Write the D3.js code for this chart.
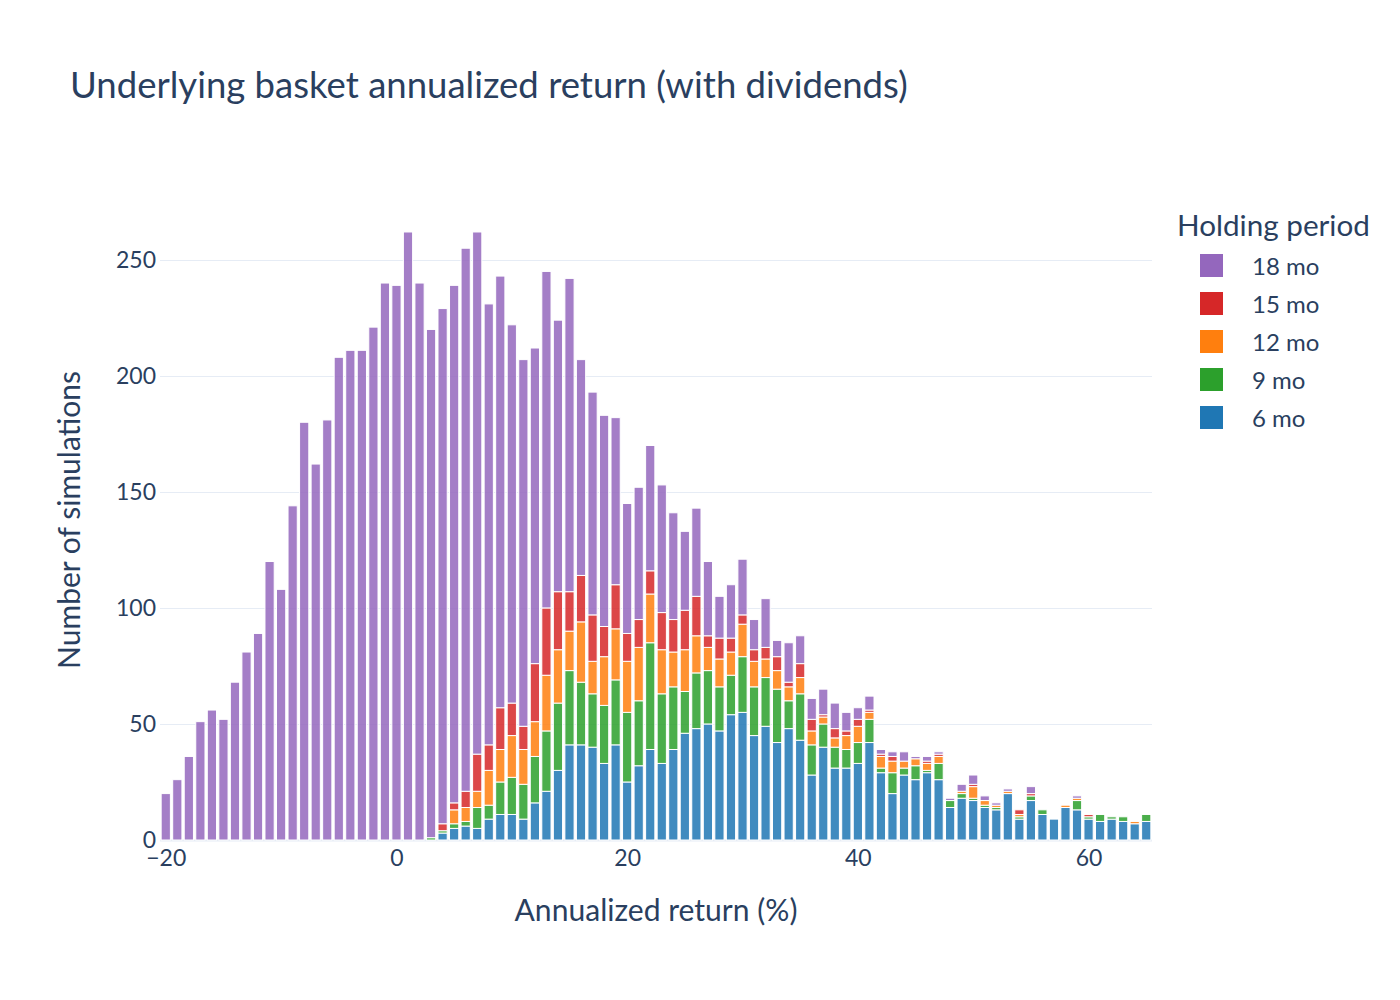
<!DOCTYPE html>
<html>
<head>
<meta charset="utf-8">
<script src="https://cdn.jsdelivr.net/npm/d3@7"></script>
<style>
  body { margin: 0; background: #fff; }
  text { font-family: "Lato", "Noto Sans", sans-serif; fill: #2a3f5f; }
</style>
</head>
<body>
<svg id="chart" width="1400" height="1000"></svg>
<script>
// bins are 1 point wide, centred on integers from binStart to binEnd
var binStart = -20, binEnd = 65;
var periods = ["6 mo", "9 mo", "12 mo", "15 mo", "18 mo"];
var colors = ["#1f77b4", "#2ca02c", "#ff7f0e", "#d62728", "#9467bd"];
var xTicks = [-20, 0, 20, 40, 60];
var yTicks = [0, 50, 100, 150, 200, 250];

// counts per bin (-20 .. 65)
var mo6 = [0,0,0,0,0,0,0,0,0,0,0,0,0,0,0,0,0,0,0,0,0,0,0,
  0,3,5,6,5,9,11,11,9,16,21,30,41,41,40,33,41,25,32,39,33,39,46,48,50,47,54,55,45,49,
  42,48,43,28,40,31,31,33,42,29,20,28,26,29,26,14,18,17,14,13,20,9,17,11,9,14,13,9,8,9,8,7,8];
var mo9 = [0,0,0,0,0,0,0,0,0,0,0,0,0,0,0,0,0,0,0,0,0,0,0,
  1,1,2,2,9,6,14,16,15,20,26,29,32,27,23,25,28,30,28,46,30,27,18,24,23,19,17,24,21,21,
  23,12,20,13,10,9,8,9,10,2,9,3,6,1,7,3,2,1,1,1,0,1,2,2,0,0,4,1,3,1,2,0,3];
var mo12 = [0,0,0,0,0,0,0,0,0,0,0,0,0,0,0,0,0,0,0,0,0,0,0,
  0,0,6,6,7,15,14,18,15,15,24,23,17,26,14,21,22,22,23,21,19,15,18,16,10,12,10,14,11,8,
  8,6,7,6,3,4,6,7,3,5,5,3,3,3,3,0,1,5,2,1,1,1,0,0,0,1,1,0,0,0,0,1,0];
var mo15 = [0,0,0,0,0,0,0,0,0,0,0,0,0,0,0,0,0,0,0,0,0,0,0,
  0,3,3,7,16,11,18,14,10,25,29,25,17,20,20,13,19,12,12,10,16,14,17,17,5,9,6,4,5,5,
  6,2,6,5,1,4,2,3,1,1,2,0,0,1,1,0,0,1,0,0,0,2,1,0,0,0,0,1,0,0,0,0,0];
var mo18 = [20,26,36,51,56,52,68,81,89,120,108,144,180,162,181,208,211,211,221,240,239,262,240,
  219,222,223,234,225,190,186,163,158,136,145,117,135,93,96,91,72,56,57,54,55,46,34,38,32,18,23,24,13,21,
  7,17,12,9,11,11,8,5,6,2,2,4,1,2,1,1,3,4,2,1,1,0,3,0,0,0,1,0,0,0,0,0,0];

var series = [mo6, mo9, mo12, mo15, mo18];

var svg = d3.select("#chart");
var plotL = 160, plotR = 1152, plotT = 200, plotB = 840;

var bins = d3.range(binStart, binEnd + 1);
var rows = bins.map(function(b, i) {
  var r = {bin: b};
  periods.forEach(function(p, k) { r[p] = series[k][i]; });
  return r;
});
var stacked = d3.stack().keys(periods)(rows);

var x = d3.scaleLinear().domain([binStart - 0.5, binEnd + 0.5]).range([plotL, plotR]);
var yMax = d3.max(rows, function(r) { return d3.sum(periods, function(p) { return r[p]; }); });
var y = d3.scaleLinear().domain([0, yMax * 1.0526]).range([plotB, plotT]);

// grid
svg.append("g").selectAll("line")
    .data(yTicks)
  .enter().append("line")
    .attr("x1", plotL).attr("x2", plotR)
    .attr("y1", function(d) { return Math.round(y(d)) + 0.5; })
    .attr("y2", function(d) { return Math.round(y(d)) + 0.5; })
    .style("stroke", "#e6ecf5")
    .style("stroke-width", function(d) { return d === 0 ? 2 : 1; });

// bars
var bw = (x(1) - x(0)) * 0.8;
svg.append("g").selectAll("g")
    .data(stacked)
  .enter().append("g")
    .style("fill", function(d, i) { return colors[i]; })
    .style("fill-opacity", 0.85)
  .selectAll("rect")
    .data(function(d) { return d.filter(function(s) { return s[1] > s[0]; }); })
  .enter().append("rect")
    .attr("x", function(d) { return x(d.data.bin) - bw / 2; })
    .attr("y", function(d) { return y(d[1]); })
    .attr("width", bw)
    .attr("height", function(d) { return y(d[0]) - y(d[1]); })
    .style("stroke", "#fff").style("stroke-width", 1);

// axes
var yAxis = svg.append("g")
    .attr("transform", "translate(" + plotL + ",0)")
    .call(d3.axisLeft(y).tickValues(yTicks).tickSize(0).tickPadding(4));
var xAxis = svg.append("g")
    .attr("transform", "translate(0," + plotB + ")")
    .call(d3.axisBottom(x).tickValues(xTicks).tickSize(0).tickPadding(10));
[xAxis, yAxis].forEach(function(a) {
  a.select(".domain").remove();
  a.attr("font-family", null).attr("font-size", null);
  a.selectAll("text").style("font-size", "23px").attr("fill", "#2a3f5f");
});

function fit(sel, width) {
  var fs = parseFloat(sel.style("font-size"));
  var w = sel.node().getComputedTextLength();
  sel.style("font-size", (fs * width / w) + "px");
  return sel;
}

fit(svg.append("text")
    .attr("x", 70).attr("y", 98)
    .style("font-size", "34px")
    .text("Underlying basket annualized return (with dividends)"), 838);

fit(svg.append("text")
    .attr("x", (plotL + plotR) / 2).attr("y", 921)
    .attr("text-anchor", "middle")
    .style("font-size", "26px")
    .text("Annualized return (%)"), 283);

fit(svg.append("text")
    .attr("transform", "translate(80," + (plotT + plotB) / 2 + ") rotate(-90)")
    .attr("text-anchor", "middle")
    .style("font-size", "26px")
    .text("Number of simulations"), 298);

// legend, reversed so the top of the stack comes first
var legend = svg.append("g");
fit(legend.append("text")
    .attr("x", 1177).attr("y", 236)
    .style("font-size", "28px")
    .text("Holding period"), 193);

var items = legend.selectAll("g.item")
    .data(periods.slice().reverse())
  .enter().append("g")
    .attr("class", "item")
    .attr("transform", function(d, i) { return "translate(1200," + (265.5 + i * 38) + ")"; });
items.append("rect")
    .attr("x", 0).attr("y", -11.5)
    .attr("width", 23).attr("height", 23)
    .style("fill", function(d) { return colors[periods.indexOf(d)]; });
items.append("text")
    .attr("x", 52).attr("y", 9)
    .style("font-size", "24px")
    .text(function(d) { return d; });
</script>
</body>
</html>
